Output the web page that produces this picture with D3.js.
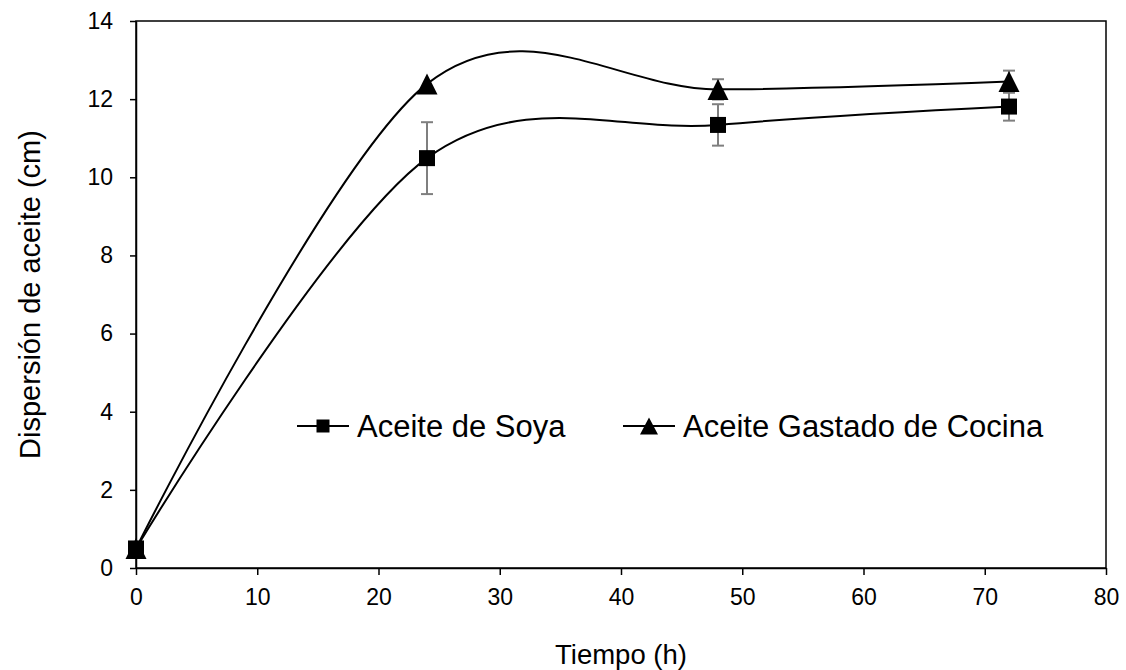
<!DOCTYPE html>
<html>
<head>
<meta charset="utf-8">
<script src="https://cdn.jsdelivr.net/npm/d3@7"></script>
<style>
  body { margin: 0; background: #fff; }
  svg text { font-family: Arial, "Liberation Sans", sans-serif; fill: #000; }
</style>
</head>
<body>
<div id="chart"></div>
<script>
// Values
const tiempo = [0, 24, 48, 72];
const soya = [0.5, 10.49, 11.34, 11.81];
const soyaErr = [0, 0.92, 0.53, 0.36];
const gastado = [0.5, 12.39, 12.25, 12.45];
const gastadoErr = [0, 0, 0.26, 0.28];
const xTicks = [0, 10, 20, 30, 40, 50, 60, 70, 80];
const yTicks = [0, 2, 4, 6, 8, 10, 12, 14];
const seriesNames = ['Aceite de Soya', 'Aceite Gastado de Cocina'];

const width = 1126;
const height = 670;
const margin = { top: 21, right: 20, bottom: 102, left: 136 };

const usableArea = {
  top: margin.top,
  right: width - margin.right,
  bottom: height - margin.bottom,
  left: margin.left,
};

// Excel-like triangle: centered on its bounding box
function triangle(w, h) {
  return `M0,${-h / 2}L${w / 2},${h / 2}L${-w / 2},${h / 2}Z`;
}
function square(s) {
  return `M${-s / 2},${-s / 2}h${s}v${s}h${-s}Z`;
}

const svg = d3
  .select('#chart')
  .append('svg')
  .attr('width', width)
  .attr('height', height);

const xScale = d3.scaleLinear().domain([0, 80]).range([usableArea.left, usableArea.right]);
const yScale = d3.scaleLinear().domain([0, 14]).range([usableArea.bottom, usableArea.top]);

// frame
svg
  .append('rect')
  .attr('x', usableArea.left)
  .attr('y', usableArea.top)
  .attr('width', usableArea.right - usableArea.left)
  .attr('height', usableArea.bottom - usableArea.top)
  .attr('fill', 'none')
  .attr('stroke', '#000')
  .attr('stroke-width', 1.5);

const xAxis = svg
  .append('g')
  .attr('transform', `translate(0, ${usableArea.bottom})`)
  .call(d3.axisBottom(xScale).tickValues(xTicks).tickSize(7).tickPadding(14).tickSizeOuter(0));

const yAxis = svg
  .append('g')
  .attr('transform', `translate(${usableArea.left}, 0)`)
  .call(d3.axisLeft(yScale).tickValues(yTicks).tickSize(6).tickPadding(17).tickSizeOuter(0));

[xAxis, yAxis].forEach((g) => {
  g.select('.domain').attr('stroke', '#000').attr('stroke-width', 1.5);
  g.selectAll('.tick line').attr('stroke', '#000').attr('stroke-width', 1.5);
  g.selectAll('.tick text').style('font-size', '23px').attr('fill', '#000');
});

// axis titles
svg
  .append('text')
  .attr('x', (usableArea.left + usableArea.right) / 2)
  .attr('y', 664)
  .attr('text-anchor', 'middle')
  .style('font-size', '27.5px')
  .text('Tiempo (h)');

svg
  .append('text')
  .attr('transform', `translate(40, ${(usableArea.top + usableArea.bottom) / 2}) rotate(-90)`)
  .attr('text-anchor', 'middle')
  .style('font-size', '29px')
  .text('Dispersión de aceite (cm)');

const line = d3
  .line()
  .x((d) => xScale(d[0]))
  .y((d) => yScale(d[1]))
  .curve(d3.curveCardinal.tension(0));

const series = [
  { name: seriesNames[0], values: soya, err: soyaErr, marker: square(16) },
  { name: seriesNames[1], values: gastado, err: gastadoErr, marker: triangle(21, 21) },
];

series.forEach((s) => {
  const pts = tiempo.map((t, i) => [t, s.values[i], s.err[i]]);

  svg
    .append('path')
    .datum(pts)
    .attr('d', line)
    .attr('fill', 'none')
    .attr('stroke', '#000')
    .attr('stroke-width', 2);

  // error bars
  const eb = svg.append('g').attr('stroke', '#7f7f7f').attr('stroke-width', 2);
  pts.filter((d) => d[2] > 0).forEach((d) => {
    const x = xScale(d[0]);
    const y0 = yScale(d[1] - d[2]);
    const y1 = yScale(d[1] + d[2]);
    eb.append('line').attr('x1', x).attr('x2', x).attr('y1', y0).attr('y2', y1);
    eb.append('line').attr('x1', x - 6).attr('x2', x + 6).attr('y1', y0).attr('y2', y0);
    eb.append('line').attr('x1', x - 6).attr('x2', x + 6).attr('y1', y1).attr('y2', y1);
  });

  svg
    .append('g')
    .selectAll('path')
    .data(pts)
    .join('path')
    .attr('transform', (d) => `translate(${xScale(d[0])}, ${yScale(d[1])})`)
    .attr('d', s.marker)
    .attr('fill', '#000');
});

// legend
const legendItems = [
  { name: seriesNames[0], marker: square(13), x: 297 },
  { name: seriesNames[1], marker: triangle(18, 17), x: 623 },
];
const legendY = 426;
const legend = svg.append('g');
legendItems.forEach((it) => {
  legend
    .append('line')
    .attr('x1', it.x)
    .attr('x2', it.x + 52)
    .attr('y1', legendY)
    .attr('y2', legendY)
    .attr('stroke', '#000')
    .attr('stroke-width', 2);
  legend
    .append('path')
    .attr('transform', `translate(${it.x + 26}, ${legendY})`)
    .attr('d', it.marker)
    .attr('fill', '#000');
  legend
    .append('text')
    .attr('x', it.x + 60)
    .attr('y', legendY + 11)
    .style('font-size', '31px')
    .text(it.name);
});
</script>
</body>
</html>
